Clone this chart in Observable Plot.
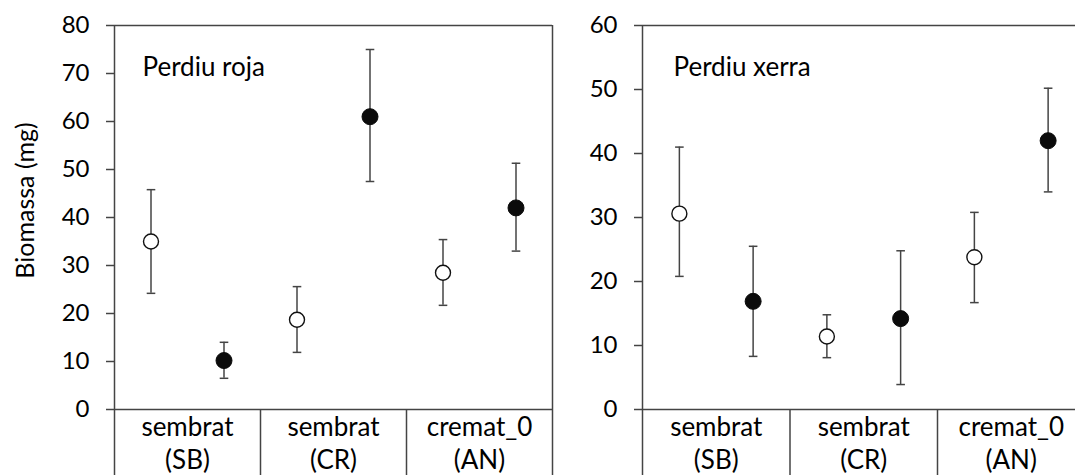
<!DOCTYPE html>
<html><head><meta charset="utf-8">
<script src="https://cdn.jsdelivr.net/npm/d3@7"></script>
<script src="https://cdn.jsdelivr.net/npm/@observablehq/plot@0.6"></script>
<style>
html,body{margin:0;padding:0;background:#fff;overflow:hidden;}
#row{display:flex;width:1075px;height:475px;overflow:hidden;}
#row svg{flex:none;max-width:none;}
</style></head><body><div id="row"></div>
<script>
// Categories (sites) shown in the table below each panel
const sites = ["sembrat\n(SB)", "sembrat\n(CR)", "cremat_0\n(AN)"];
// Within each site: first = open circle, second = filled circle
const treatments = ["oberta", "tancada"];
const panelTitles = ["Perdiu roja", "Perdiu xerra"];
const yLabel = "Biomassa (mg)";
const yMax = [80, 60];

// Perdiu roja (order: SB open, SB filled, CR open, CR filled, AN open, AN filled)
const rojaMean = [35, 10.2, 18.7, 61, 28.5, 42];
const rojaHigh = [45.8, 14, 25.6, 75, 35.4, 51.3];
const rojaLow  = [24.2, 6.5, 11.9, 47.5, 21.7, 33];

// Perdiu xerra
const xerraMean = [30.6, 16.9, 11.4, 14.2, 23.8, 42];
const xerraHigh = [41, 25.5, 14.8, 24.8, 30.8, 50.2];
const xerraLow  = [20.8, 8.3, 8.1, 3.9, 16.7, 34];

const LINE = "#444";
const capSymbol = {draw(ctx) { ctx.moveTo(-4.3, 0); ctx.lineTo(4.3, 0); }};

function panel({mean, high, low, title, ymax, width, xRange, titleDx, labelY}) {
  const rows = mean.map((m, i) => {
    const s = Math.floor(i / treatments.length);
    const t = i % treatments.length;
    return {site: s, treatment: treatments[t], x: s + (t + 0.5) / treatments.length, mean: m, hi: high[i], lo: low[i]};
  });
  const n = sites.length;
  const below = -ymax; // extends into the table area (clipped by the svg)
  const marks = [
    // frame & table lines
    Plot.ruleY([0, ymax], {x1: 0, x2: n, stroke: LINE, strokeWidth: 1.5}),
    Plot.ruleX([0, n], {y1: ymax, y2: below, stroke: LINE, strokeWidth: 1.5}),
    Plot.ruleX(d3.range(1, n), {y1: 0, y2: below, stroke: LINE, strokeWidth: 1.5}),
    Plot.axisY({ticks: d3.range(0, ymax + 1, 10), tickSize: 8, tickPadding: 17, fontSize: 24, label: null, stroke: LINE, strokeWidth: 1.5, fill: "#000"}),
    // error bars
    Plot.ruleX(rows, {x: "x", y1: "lo", y2: "hi", stroke: LINE, strokeWidth: 1.5}),
    Plot.dot(rows, {x: "x", y: "hi", symbol: capSymbol, r: 4, fill: "none", stroke: LINE, strokeWidth: 1.5}),
    Plot.dot(rows, {x: "x", y: "lo", symbol: capSymbol, r: 4, fill: "none", stroke: LINE, strokeWidth: 1.5}),
    // means
    Plot.dot(rows.filter(d => d.treatment === treatments[0]), {x: "x", y: "mean", r: 7.5, fill: "white", stroke: "#111", strokeWidth: 1.4}),
    Plot.dot(rows.filter(d => d.treatment === treatments[1]), {x: "x", y: "mean", r: 8, fill: "#0b0b0b", stroke: "#0b0b0b", strokeWidth: 1}),
    // panel title
    Plot.text([title], {frameAnchor: "top-left", dx: titleDx, dy: 50, textAnchor: "start", lineAnchor: "bottom", fontSize: 26, fill: "#000"}),
    // category labels
    Plot.text(sites, {x: sites.map((_, i) => i + 0.5), y: 0, dy: 4, lineAnchor: "top", lineHeight: 1.24, fontSize: 26, fill: "#000"})
  ];
  if (labelY) marks.push(Plot.text([yLabel], {frameAnchor: "left", textAnchor: "middle", rotate: -90, dx: -89, dy: -17, fontSize: 25, fill: "#000"}));
  return Plot.plot({
    width, height: 475,
    marginTop: 25, marginBottom: 66, marginLeft: xRange[0], marginRight: 0,
    x: {domain: [0, n], range: xRange, axis: null},
    y: {domain: [0, ymax]},
    style: {fontFamily: "Lato, 'Open Sans', sans-serif", fontSize: "24px", color: "#000", background: "white", overflow: "hidden"},
    marks
  });
}

const row = document.getElementById("row");
row.append(panel({mean: rojaMean, high: rojaHigh, low: rojaLow, title: panelTitles[0], ymax: yMax[0], width: 575, xRange: [114, 552], titleDx: 28, labelY: true}));
row.append(panel({mean: xerraMean, high: xerraHigh, low: xerraLow, title: panelTitles[1], ymax: yMax[1], width: 500, xRange: [67, 509.5], titleDx: 31, labelY: false}));
</script></body></html>
